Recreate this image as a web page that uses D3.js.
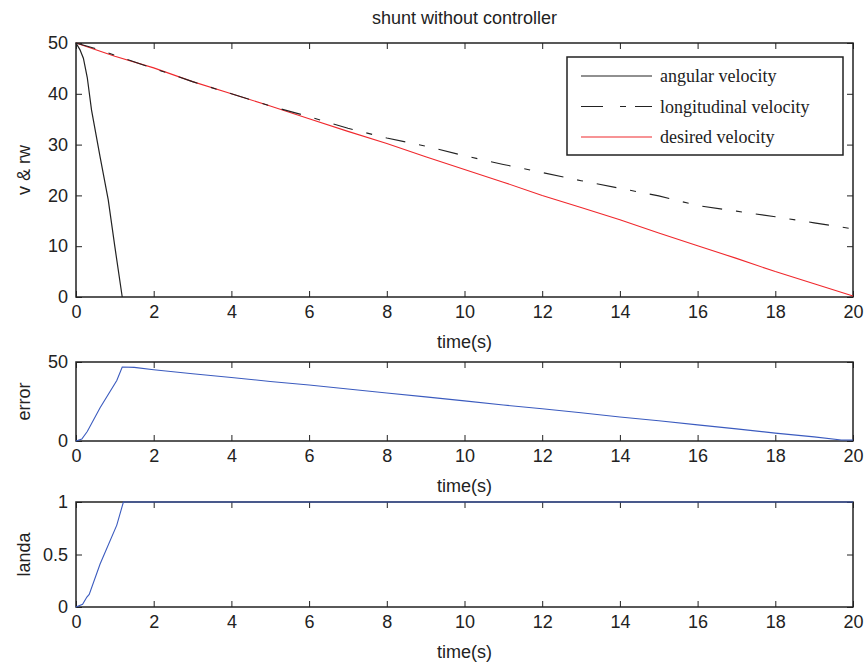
<!DOCTYPE html>
<html>
<head>
<meta charset="utf-8">
<script src="https://cdn.jsdelivr.net/npm/d3@7"></script>
<style>
  body { margin: 0; background: #fff; }
  text { font-family: "Liberation Sans", Arial, sans-serif; fill: #222; }
  .tick text { font-size: 18px; }
  .legend text { font-family: "Liberation Serif", "Times New Roman", serif; font-size: 18px; }
</style>
</head>
<body>
<script>
// data
var angT = [0, 0.1, 0.19, 0.29, 0.4, 0.62, 0.83, 1.0, 1.19];
var angV = [50, 48.7, 47, 43.2, 36.8, 27.6, 19.1, 9.9, 0];

var lonT = [0, 0.5, 1, 2, 3, 4, 5, 6, 7, 8, 9, 10, 11, 12, 13, 14, 15, 16, 17, 18, 19, 20];
var lonV = [50, 48.9, 47.6, 45, 42.4, 40, 37.6, 35.5, 33.2, 31.3, 29.7, 27.8, 26.1, 24.5, 22.9, 21.4, 19.9, 18.0, 16.9, 15.8, 14.6, 13.4];

var desT = [0, 1, 2, 3, 4, 5, 6, 7, 8, 9, 10, 11, 12, 13, 14, 15, 16, 17, 18, 19, 20];
var desV = [50, 47.4, 45.1, 42.4, 40.0, 37.6, 35.1, 32.6, 30.2, 27.6, 25.1, 22.6, 20.0, 17.6, 15.2, 12.6, 10.1, 7.6, 5.0, 2.6, 0.2];

var errT = [0, 0.15, 0.29, 0.62, 1.05, 1.19, 1.5, 2, 3, 4, 5, 6, 7, 8, 9, 10, 11, 12, 13, 14, 15, 16, 17, 18, 19, 19.7, 20];
var errV = [0, 1.2, 6, 21, 38.3, 46.8, 46.6, 45.1, 42.6, 40.2, 37.7, 35.4, 32.9, 30.4, 27.9, 25.4, 22.8, 20.4, 17.9, 15.2, 12.8, 10.2, 7.7, 5.0, 2.6, 0.6, 0.6];

var landaT = [0, 0.17, 0.28, 0.34, 0.62, 1.05, 1.22, 20];
var landaV = [0, 0.026, 0.095, 0.12, 0.41, 0.78, 1, 1];

var xTicks = [0, 2, 4, 6, 8, 10, 12, 14, 16, 18, 20];

var svgWidth = 866, svgHeight = 662;
var left = 76, right = 853;

var svg = d3.select("body").append("svg")
  .attr("width", svgWidth)
  .attr("height", svgHeight);

var x = d3.scaleLinear().domain([0, 20]).range([left, right]);

function zip(t, v) { return t.map((d, i) => ({ t: d, v: v[i] })); }

// one subplot: frame, inward ticks on all four sides, labels
function panel(top, bottom, yDomain, yTicks, yFmt, ylabel) {
  var y = d3.scaleLinear().domain(yDomain).range([bottom, top]);
  var g = svg.append("g");

  g.append("g")
    .attr("transform", `translate(0, ${bottom})`)
    .call(d3.axisBottom(x).tickValues(xTicks).tickSizeInner(-6).tickSizeOuter(0).tickPadding(8));
  g.append("g")
    .attr("transform", `translate(0, ${top})`)
    .call(d3.axisTop(x).tickValues(xTicks).tickSizeInner(-6).tickSizeOuter(0).tickFormat(""));
  g.append("g")
    .attr("transform", `translate(${left}, 0)`)
    .call(d3.axisLeft(y).tickValues(yTicks).tickFormat(yFmt).tickSizeInner(-6).tickSizeOuter(0).tickPadding(8));
  g.append("g")
    .attr("transform", `translate(${right}, 0)`)
    .call(d3.axisRight(y).tickValues(yTicks).tickSizeInner(-6).tickSizeOuter(0).tickFormat(""));

  g.selectAll(".domain").remove();
  g.selectAll(".tick line").attr("stroke", "#222");

  g.append("rect")
    .attr("x", left).attr("y", top)
    .attr("width", right - left).attr("height", bottom - top)
    .attr("fill", "none").attr("stroke", "#222").attr("stroke-width", 1.5);

  g.append("text")
    .attr("x", (left + right) / 2).attr("y", bottom + 51)
    .attr("text-anchor", "middle").style("font-size", "18px")
    .text("time(s)");

  g.append("text")
    .attr("transform", `translate(30, ${(top + bottom) / 2}) rotate(-90)`)
    .attr("text-anchor", "middle").style("font-size", "18px")
    .text(ylabel);

  return y;
}

// top panel
var y1 = panel(43, 297, [0, 50], [0, 10, 20, 30, 40, 50], d3.format("d"), "v & rw");

svg.append("text")
  .attr("x", (left + right) / 2).attr("y", 24)
  .attr("text-anchor", "middle").style("font-size", "18px")
  .text("shunt without controller");

var line1 = d3.line().x(d => x(d.t)).y(d => y1(d.v));

svg.append("path").datum(zip(desT, desV))
  .attr("d", line1).attr("fill", "none").attr("stroke", "#f0282d").attr("stroke-width", 1.1);
svg.append("path").datum(zip(lonT, lonV))
  .attr("d", line1).attr("fill", "none").attr("stroke", "#222").attr("stroke-width", 1.1)
  .attr("stroke-dasharray", "20,14,6,14");
svg.append("path").datum(zip(angT, angV))
  .attr("d", line1).attr("fill", "none").attr("stroke", "#222").attr("stroke-width", 1.2);

// legend
var legend = svg.append("g").attr("class", "legend");
legend.append("rect")
  .attr("x", 567).attr("y", 57).attr("width", 276).attr("height", 98)
  .attr("fill", "#fff").attr("stroke", "#222").attr("stroke-width", 1.5);
var legItems = [
  { name: "angular velocity", color: "#222", dash: null },
  { name: "longitudinal velocity", color: "#222", dash: "22,17,6,9" },
  { name: "desired velocity", color: "#f0282d", dash: null }
];
legItems.forEach(function(item, i) {
  var yy = 76 + i * 30.5;
  legend.append("line")
    .attr("x1", 581).attr("x2", 652).attr("y1", yy).attr("y2", yy)
    .attr("stroke", item.color).attr("stroke-width", 1.1)
    .attr("stroke-dasharray", item.dash);
  legend.append("text")
    .attr("x", 660).attr("y", yy).attr("dy", "0.35em")
    .text(item.name);
});

// middle panel
var y2 = panel(362, 441, [0, 50], [0, 50], d3.format("d"), "error");
svg.append("path").datum(zip(errT, errV))
  .attr("d", d3.line().x(d => x(d.t)).y(d => y2(d.v)))
  .attr("fill", "none").attr("stroke", "#3b5bbf").attr("stroke-width", 1.1);

// bottom panel
var y3 = panel(502, 607, [0, 1], [0, 0.5, 1], d => (d === 0.5 ? "0.5" : d3.format("d")(d)), "landa");
svg.append("path").datum(zip(landaT, landaV))
  .attr("d", d3.line().x(d => x(d.t)).y(d => y3(d.v)))
  .attr("fill", "none").attr("stroke", "#3b5bbf").attr("stroke-width", 1.1);
</script>
</body>
</html>
